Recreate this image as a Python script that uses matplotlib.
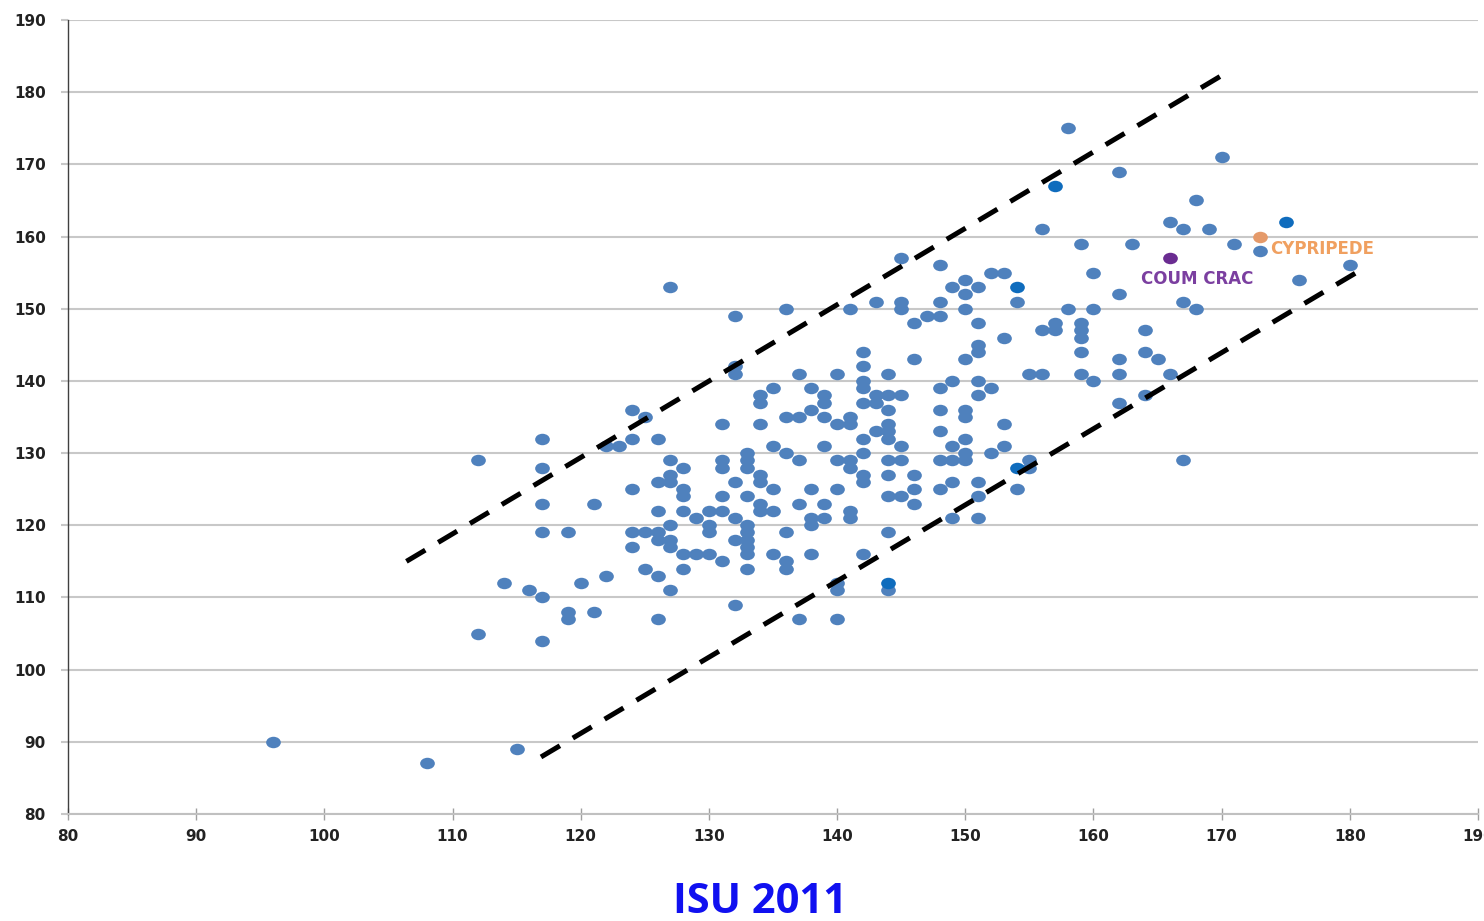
import matplotlib
matplotlib.use("Agg")
import matplotlib.pyplot as plt
from matplotlib.path import Path
from matplotlib.transforms import Affine2D

# ---------------- data ----------------
# (x, list of y values), all regular blue points
cols = {
    96: [90],
    108: [87],
    112: [129, 105],
    114: [112],
    115: [89],
    116: [111],
    117: [132, 128, 123, 119, 110, 104],
    119: [119, 108, 107],
    120: [112],
    121: [123, 108],
    122: [131, 113],
    123: [131],
    124: [136, 132, 125, 119, 117],
    125: [135, 119, 114],
    126: [132, 126, 122, 119, 118, 113, 107],
    127: [153, 129, 127, 126, 120, 118, 117, 111],
    128: [128, 125, 124, 122, 116, 114],
    129: [121, 116],
    130: [122, 120, 119, 116],
    131: [134, 129, 128, 124, 122, 115],
    132: [149, 142, 141, 126, 121, 118, 109],
    133: [130, 129, 128, 124, 120, 119, 118, 117, 116, 114],
    134: [138, 137, 134, 127, 126, 123, 122],
    135: [139, 131, 125, 122, 116],
    136: [150, 135, 130, 119, 115, 114],
    137: [141, 135, 129, 123, 107],
    138: [139, 136, 125, 121, 120, 116],
    139: [138, 137, 135, 131, 123, 121],
    140: [141, 134, 129, 125, 112, 111, 107],
    141: [150, 135, 134, 129, 128, 122, 121],
    142: [144, 142, 140, 139, 137, 132, 130, 127, 126, 116],
    143: [151, 138, 137, 133],
    144: [141, 138, 136, 134, 133, 132, 129, 127, 124, 119, 111],
    145: [157, 151, 150, 138, 131, 129, 124],
    146: [148, 143, 127, 125, 123],
    147: [149],
    148: [156, 151, 149, 139, 136, 133, 129, 125],
    149: [153, 140, 131, 129, 126, 121],
    150: [154, 152, 150, 143, 136, 135, 132, 130, 129],
    151: [153, 148, 145, 144, 140, 138, 126, 124, 121],
    152: [155, 139, 130],
    153: [155, 146, 134, 131],
    154: [151, 125],
    155: [141, 129, 128],
    156: [161, 147, 141],
    157: [148, 147],
    158: [175, 150],
    159: [159, 148, 147, 146, 144, 141],
    160: [155, 150, 140],
    162: [169, 152, 143, 141, 137],
    163: [159],
    164: [147, 144, 138],
    165: [143],
    166: [162, 141],
    167: [161, 151, 129],
    168: [165, 150],
    169: [161],
    170: [171],
    171: [159],
    173: [158],
    176: [154],
    180: [156],
}
x_blue = [x for x, ys in cols.items() for _ in ys]
y_blue = [y for ys in cols.values() for y in ys]

# slightly darker blue points
x_dark = [157, 175, 154, 154, 144]
y_dark = [167, 162, 153, 128, 112]

# highlighted varieties
label_names = ["COUM CRAC", "CYPRIPEDE"]
label_x = [166, 173]
label_y = [157, 160]

# dashed band lines (endpoints in data units)
upper_x = [106.4, 169.9]
upper_y = [115.0, 182.2]
lower_x = [116.9, 180.6]
lower_y = [87.9, 155.1]

x_ticks = list(range(80, 191, 10))
y_ticks = list(range(80, 191, 10))
title_text = "ISU 2011"

# ---------------- drawing ----------------
W, H = 1484, 921
fig = plt.figure(figsize=(W / 100, H / 100), dpi=100)
ax = fig.add_axes([68 / W, 1 - 814 / H, (1478 - 68) / W, (814 - 20) / H])

ell = Path.unit_circle().transformed(Affine2D().scale(1.0, 0.78))

blue = "#4F81BD"
msize = 112
ax.scatter(x_blue, y_blue, marker=ell, s=msize, color=blue, linewidths=0, zorder=3)
ax.scatter(x_dark, y_dark, marker=ell, s=msize, color="#0F6CBD", linewidths=0, zorder=3)
ax.scatter(label_x[0], label_y[0], marker=ell, s=msize, color="#6A2C91", linewidths=0, zorder=4)
ax.scatter(label_x[1], label_y[1], marker=ell, s=msize, color="#E59A6A", linewidths=0, zorder=4)

ax.annotate(label_names[0], (label_x[0], label_y[0]), xytext=(19, -15),
            textcoords="offset points", ha="center", va="center",
            color="#7B3FA0", fontsize=12, fontweight="bold", family="DejaVu Sans")
ax.annotate(label_names[1], (label_x[1], label_y[1]), xytext=(7, -9),
            textcoords="offset points", ha="left", va="center",
            color="#F0A060", fontsize=12, fontweight="bold", family="DejaVu Sans")

for xs, ys in ((upper_x, upper_y), (lower_x, lower_y)):
    ax.plot(xs, ys, color="black", lw=3.6, dashes=(4.4, 3.0),
            solid_capstyle="butt", dash_capstyle="butt", zorder=5)

ax.set_xlim(80, 190)
ax.set_ylim(80, 190)
ax.set_xticks(x_ticks)
ax.set_yticks(y_ticks)
ax.yaxis.grid(True, color="#C8C8C8", lw=1.5, zorder=0)
ax.xaxis.grid(False)
ax.set_axisbelow(True)

for s in ("top", "right"):
    ax.spines[s].set_visible(False)
ax.spines["left"].set_color("#404040")
ax.spines["left"].set_linewidth(1.0)
ax.spines["bottom"].set_color("#C0C0C0")
ax.spines["bottom"].set_linewidth(1.5)

ax.tick_params(axis="y", length=5, width=1.5, color="#C8C8C8", pad=11,
               labelsize=11, labelcolor="#222222")
ax.tick_params(axis="x", length=8, width=1, direction="inout", color="#A0A0A0",
               pad=7, labelsize=11, labelcolor="#222222")
for lab in ax.get_xticklabels() + ax.get_yticklabels():
    lab.set_fontweight("bold")
    lab.set_family("DejaVu Sans")

fig.text(760 / W, 1 - 902 / H, title_text, ha="center", va="center",
         color="#1010F0", fontsize=30, fontweight="bold", family="Open Sans")

fig.savefig("out.png", dpi=100)
